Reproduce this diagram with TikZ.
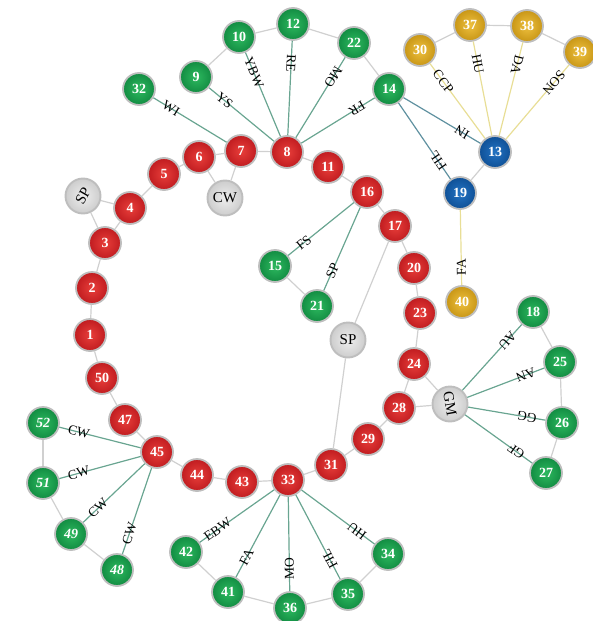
\documentclass[tikz,border=0pt]{standalone}
\usepackage{fontspec}
\setmainfont{Liberation Serif}
\definecolor{ringgray}{RGB}{190,190,190}
\definecolor{edgegray}{RGB}{208,208,208}
\definecolor{teal1}{RGB}{105,165,145}
\definecolor{blueteal}{RGB}{95,145,160}
\definecolor{yel}{RGB}{232,222,150}
\definecolor{redin}{RGB}{232,62,58}
\definecolor{redout}{RGB}{192,28,32}
\definecolor{grnin}{RGB}{45,185,95}
\definecolor{grnout}{RGB}{18,140,66}
\definecolor{bluin}{RGB}{35,115,195}
\definecolor{bluout}{RGB}{15,80,150}
\definecolor{goldin}{RGB}{238,192,62}
\definecolor{goldout}{RGB}{200,150,22}
\definecolor{gryin}{RGB}{238,238,238}
\definecolor{gryout}{RGB}{205,205,205}
\tikzset{
  ball/.style={circle, draw=ringgray, line width=1.8pt, minimum size=32pt, inner sep=0pt,
    font=\fontsize{14}{14}\selectfont\bfseries, text=white},
  rn/.style={ball, inner color=redin, outer color=redout},
  gn/.style={ball, inner color=grnin, outer color=grnout},
  bn/.style={ball, inner color=bluin, outer color=bluout},
  yn/.style={ball, inner color=goldin, outer color=goldout},
  hn/.style={circle, draw=ringgray, line width=1.9pt, minimum size=35pt, inner sep=0pt,
    inner color=gryin, outer color=gryout, text=black, font=\fontsize{15}{15}\selectfont},
  ring/.style={draw=edgegray, line width=1.2pt},
  tl/.style={draw=teal1, line width=1.2pt},
  btl/.style={draw=blueteal, line width=1.2pt},
  yl/.style={draw=yel, line width=1.2pt},
  lbl/.style={font=\fontsize{13.5}{13.5}\selectfont, text=black, sloped, allow upside down, inner sep=0.5pt, pos=0.24}
}
\begin{document}
\begin{tikzpicture}[x=1pt,y=-1pt]
\useasboundingbox (0,0) rectangle (593,621);
% red chain
\node[rn] (n8) at (287,152) {8};
\node[rn] (n7) at (241,151) {7};
\node[rn] (n6) at (199,157) {6};
\node[rn] (n5) at (164,174) {5};
\node[rn] (n4) at (130,208) {4};
\node[rn] (n3) at (105,243) {3};
\node[rn] (n2) at (92,288) {2};
\node[rn] (n1) at (90,335) {1};
\node[rn] (n50) at (102,378) {50};
\node[rn] (n47) at (125,420) {47};
\node[rn] (n45) at (157,452) {45};
\node[rn] (n44) at (197,475) {44};
\node[rn] (n43) at (242,482) {43};
\node[rn] (n33) at (288,480) {33};
\node[rn] (n31) at (331,465) {31};
\node[rn] (n29) at (368,439) {29};
\node[rn] (n28) at (399,408) {28};
\node[rn] (n24) at (414,364) {24};
\node[rn] (n23) at (420,313) {23};
\node[rn] (n20) at (414,268) {20};
\node[rn] (n17) at (395,226) {17};
\node[rn] (n16) at (367,192) {16};
\node[rn] (n11) at (328,167) {11};
% gray hubs
\node[hn] (cw) at (225,198) {CW};
\node[hn] (sp1) at (83,196) {\rotatebox{60}{SP}};
\node[hn] (sp2) at (348,340) {SP};
\node[hn] (gm) at (450,404) {\rotatebox{-80}{GM}};
% green
\node[gn] (n32) at (139,89) {32};
\node[gn] (n9) at (196,77) {9};
\node[gn] (n10) at (239,37) {10};
\node[gn] (n12) at (293,24) {12};
\node[gn] (n22) at (354,43) {22};
\node[gn] (n14) at (389,89) {14};
\node[gn] (n15) at (275,266) {15};
\node[gn] (n21) at (317,306) {21};
\node[gn] (n18) at (533,312) {18};
\node[gn] (n25) at (560,362) {25};
\node[gn] (n26) at (562,423) {26};
\node[gn] (n27) at (546,473) {27};
\node[gn] (n52) at (43,423) {\textit{52}};
\node[gn] (n51) at (43,483) {\textit{51}};
\node[gn] (n49) at (71,534) {\textit{49}};
\node[gn] (n48) at (117,570) {\textit{48}};
\node[gn] (n42) at (186,552) {42};
\node[gn] (n41) at (228,592) {41};
\node[gn] (n36) at (290,608) {36};
\node[gn] (n35) at (348,594) {35};
\node[gn] (n34) at (388,554) {34};
% blue
\node[bn] (n13) at (495,152) {13};
\node[bn] (n19) at (460,193) {19};
% gold
\node[yn] (n40) at (462,302) {40};
\node[yn] (n30) at (420,50) {30};
\node[yn] (n37) at (470,25) {37};
\node[yn] (n38) at (527,26) {38};
\node[yn] (n39) at (580,52) {39};
% ring edges
\foreach \a/\b in {n1/n2,n2/n3,n3/n4,n4/n5,n5/n6,n6/n7,n7/n8,n8/n11,n11/n16,n16/n17,n17/n20,n20/n23,n23/n24,n24/n28,n28/n29,n29/n31,n31/n33,n33/n43,n43/n44,n44/n45,n45/n47,n47/n50,n50/n1,
  sp1/n4,sp1/n3,cw/n6,cw/n7,sp2/n17,sp2/n31,gm/n24,gm/n28,
  n9/n10,n10/n12,n12/n22,n22/n14,n15/n21,n18/n25,n25/n26,n26/n27,n52/n51,n51/n49,n49/n48,
  n42/n41,n41/n36,n36/n35,n35/n34,n30/n37,n37/n38,n38/n39,n13/n19}
  \draw[ring] (\a) -- (\b);
% labelled teal edges
\draw[tl] (n32) -- node[lbl]{WI} (n7);
\draw[tl] (n9) -- node[lbl]{YS} (n8);
\draw[tl] (n10) -- node[lbl]{YBW} (n8);
\draw[tl] (n12) -- node[lbl]{RE} (n8);
\draw[tl] (n22) -- node[lbl]{MO} (n8);
\draw[tl] (n14) -- node[lbl]{FR} (n8);
\draw[tl] (n15) -- node[lbl]{FS} (n16);
\draw[tl] (n21) -- node[lbl]{SP} (n16);
\draw[tl] (n18) -- node[lbl]{AU} (gm);
\draw[tl] (n25) -- node[lbl]{AN} (gm);
\draw[tl] (n26) -- node[lbl]{GG} (gm);
\draw[tl] (n27) -- node[lbl]{GF} (gm);
\draw[tl] (n52) -- node[lbl]{CW} (n45);
\draw[tl] (n51) -- node[lbl]{CW} (n45);
\draw[tl] (n49) -- node[lbl]{CW} (n45);
\draw[tl] (n48) -- node[lbl]{CW} (n45);
\draw[tl] (n42) -- node[lbl]{EBW} (n33);
\draw[tl] (n41) -- node[lbl]{FA} (n33);
\draw[tl] (n36) -- node[lbl]{MO} (n33);
\draw[tl] (n35) -- node[lbl]{FIL} (n33);
\draw[tl] (n34) -- node[lbl]{HU} (n33);
\draw[btl] (n13) -- node[lbl]{IN} (n14);
\draw[btl] (n19) -- node[lbl]{FIL} (n14);
\draw[yl] (n30) -- node[lbl]{CCP} (n13);
\draw[yl] (n37) -- node[lbl]{HU} (n13);
\draw[yl] (n38) -- node[lbl]{DA} (n13);
\draw[yl] (n39) -- node[lbl]{SON} (n13);
\draw[yl] (n40) -- node[lbl]{FA} (n19);
\end{tikzpicture}
\end{document}
